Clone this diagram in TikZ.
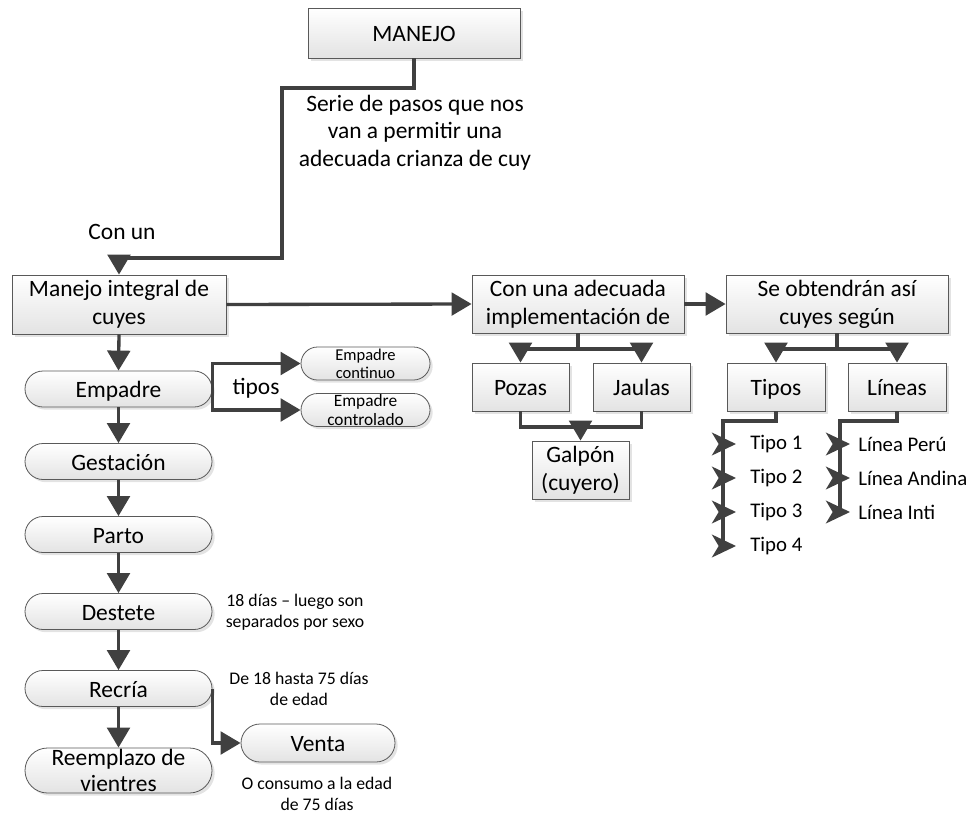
\documentclass[tikz,border=0pt]{standalone}
\usepackage{fontspec}
\setmainfont{Carlito}
\usetikzlibrary{arrows.meta,shadows,shapes.misc}

\definecolor{linecol}{HTML}{404040}
\definecolor{edgecol}{HTML}{595959}
\definecolor{shadecol}{HTML}{E3E3E3}

\tikzset{
  big/.style={font=\fontsize{17.6}{21}\selectfont},
  note/.style={font=\fontsize{13.3}{15.8}\selectfont, align=center, inner sep=0pt},
  item/.style={font=\fontsize{15.6}{18}\selectfont, anchor=west, inner ysep=0pt},
  box/.style={draw=edgecol, line width=0.6pt, top color=white, bottom color=shadecol,
    drop shadow={opacity=0.22, shadow xshift=2pt, shadow yshift=-2pt},
    align=center, inner sep=0pt, big},
  oneline/.style={text height=13.4pt, text depth=0pt},
  pill/.style={box, rounded rectangle, minimum width=140.25pt, minimum height=27pt},
  conn/.style={draw=linecol, line width=2.5pt},
  arr/.style={conn, -{Triangle[length=15pt, width=17pt]}},
  tick/.style={conn, -{Stealth[length=18pt, width=17pt, inset=5pt]}},
}

\begin{document}
\begin{tikzpicture}[x=0.75pt, y=-0.75pt]
\useasboundingbox (0,0) rectangle (973,813);

% top of the hierarchy
\node[box, oneline, minimum width=159pt, minimum height=37.5pt] (man) at (414,33) {MANEJO};
\node[big, align=center, font=\fontsize{17.6}{20.6}\selectfont] (serie) at (415,132.5)
  {Serie de pasos que nos\\van a permitir una\\adecuada crianza de cuy};
\node[big] (conun) at (122,232) {Con un};

% main row
\node[box, minimum width=160.5pt, minimum height=44.25pt] (mi) at (119,304.5) {Manejo integral de\\cuyes};
\node[box, minimum width=159pt, minimum height=43.5pt] (ca) at (578,304) {Con una adecuada\\implementación de};
\node[box, minimum width=166.5pt, minimum height=43.5pt] (so) at (837,304) {Se obtendrán así\\cuyes según};

% housing
\node[box, oneline, minimum width=72.75pt, minimum height=36pt] (pozas) at (520.5,387) {Pozas};
\node[box, oneline, minimum width=72.75pt, minimum height=36pt] (jaulas) at (641.5,387) {Jaulas};
\node[box, minimum width=72.75pt, minimum height=43.5pt] (galpon) at (580.5,470) {Galpón\\(cuyero)};

% breeds
\node[box, oneline, minimum width=73.5pt, minimum height=36pt] (tipos) at (776,387) {Tipos};
\node[box, oneline, minimum width=73.5pt, minimum height=36pt] (lineas) at (897,387) {Líneas};

% stages
\node[pill, oneline] (emp) at (118.5,389) {Empadre};
\node[pill, oneline] (ges) at (118.5,461.5) {Gestación};
\node[pill, oneline] (par) at (118.5,534.5) {Parto};
\node[pill, oneline] (des) at (118.5,611.5) {Destete};
\node[pill, oneline] (rec) at (118.5,688.5) {Recría};
\node[pill, minimum height=33.75pt, font=\fontsize{17.6}{19.5}\selectfont] (ree) at (118.5,770.5) {Reemplazo de\\vientres};
\node[pill, oneline, minimum width=115.5pt, minimum height=28.5pt] (venta) at (318,743) {Venta};

\node[pill, minimum width=96.75pt, minimum height=24.75pt, font=\fontsize{12.4}{13.5}\selectfont] (ec) at (365.5,363.5) {Empadre\\continuo};
\node[pill, minimum width=96.75pt, minimum height=24.75pt, font=\fontsize{13}{14}\selectfont] (ect) at (365.5,410) {Empadre\\controlado};
\node[big] (tiposlbl) at (256,388) {tipos};

% notes
\node[note] (ndes) at (295,612.5) {18 días – luego son\\separados por sexo};
\node[note] (nrec) at (299,689) {De 18 hasta 75 días\\de edad};
\node[note] (nven) at (317,794) {O consumo a la edad\\de 75 días};

% items
\node[item, inner xsep=10.5pt] (t1) at (736,444) {Tipo 1};
\node[item, inner xsep=10.5pt] (t2) at (736,478) {Tipo 2};
\node[item, inner xsep=10.5pt] (t3) at (736,512) {Tipo 3};
\node[item, inner xsep=10.5pt] (t4) at (736,546) {Tipo 4};
\node[item, inner xsep=6pt] (l1) at (850,444) {Línea Perú};
\node[item, inner xsep=6pt] (l2) at (850,478) {Línea Andina};
\node[item, inner xsep=6pt] (l3) at (850,512) {Línea Inti};

% junction points
\coordinate (m1) at (282,88);
\coordinate (m2) at (282,258);
\coordinate (m3) at (119,258);
\coordinate (cj) at (578,349);
\coordinate (pj) at (520.5,349);
\coordinate (jj) at (641.5,349);
\coordinate (gj) at (580.5,427);
\coordinate (sj) at (837,349);
\coordinate (tj) at (776,349);
\coordinate (lj) at (897,349);
\coordinate (ts) at (723,421);
\coordinate (ls) at (840,421);
\coordinate (ts1) at (723,444);
\coordinate (ts2) at (723,478);
\coordinate (ts3) at (723,512);
\coordinate (ts4) at (723,546);
\coordinate (ls1) at (840,444);
\coordinate (ls2) at (840,478);
\coordinate (ls3) at (840,512);

% connectors
\draw[conn] (man.south) |- (m1) -- (m2) -- (m3);
\draw[arr] (m3) -- (mi.north);
\draw[arr] (mi.east) -- (ca.west);
\draw[arr] (ca.east) -- (so.west);

\draw[conn] (ca.south) -- (cj);
\draw[conn] (pj) -- (jj);
\draw[arr] (pj) -- (pozas.north);
\draw[arr] (jj) -- (jaulas.north);
\draw[conn] (pozas.south) |- (gj) -| (jaulas.south);
\draw[arr] (gj) -- (galpon.north);

\draw[conn] (so.south) -- (sj);
\draw[conn] (tj) -- (lj);
\draw[arr] (tj) -- (tipos.north);
\draw[arr] (lj) -- (lineas.north);

\draw[conn] (tipos.south) |- (ts) -- (ts4);
\draw[conn] (lineas.south) |- (ls) -- (ls3);
\foreach \i in {1,2,3,4} \draw[tick] (ts\i) -- (t\i.west);
\foreach \i in {1,2,3} \draw[tick] (ls\i) -- (l\i.west);

\draw[arr] (mi.south) -- (emp.north);
\draw[arr] (emp.south) -- (ges.north);
\draw[arr] (ges.south) -- (par.north);
\draw[arr] (par.south) -- (des.north);
\draw[arr] (des.south) -- (rec.north);
\draw[arr] (rec.south) -- (ree.north);
\draw[arr] (rec.east) |- (venta.west);

\draw[arr] (emp.east) |- (ec.west);
\draw[arr] (emp.east) |- (ect.west);
\end{tikzpicture}
\end{document}
